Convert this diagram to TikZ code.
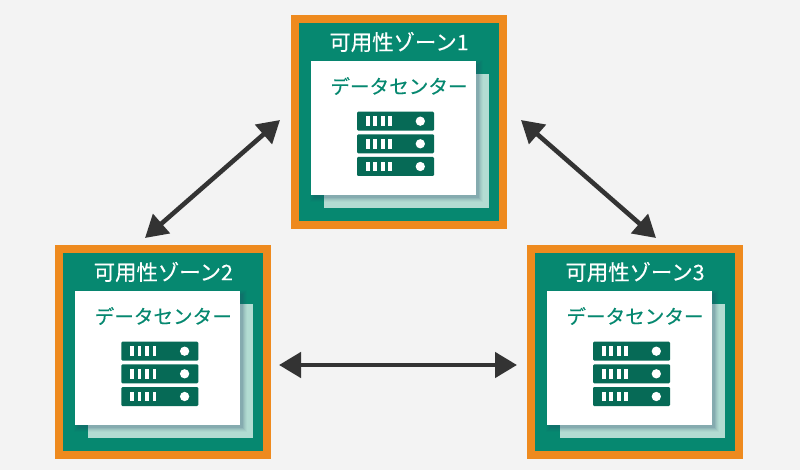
\documentclass[tikz,border=0pt]{standalone}
\usepackage{fontspec}
\setmainfont[FakeBold=0.2]{Noto Sans CJK JP}
\usetikzlibrary{arrows.meta}
\definecolor{bgc}{HTML}{F3F3F3}
\definecolor{orangec}{HTML}{EE8A1E}
\definecolor{greenc}{HTML}{068870}
\definecolor{darkc}{HTML}{066A56}
\definecolor{palec}{HTML}{B2DCD2}
\definecolor{arrowc}{HTML}{333333}
\definecolor{shadowc}{HTML}{2A4A6A}
\tikzset{
  zonebox/.style={draw=orangec,line width=8pt,fill=greenc,minimum width=208pt,minimum height=206pt,inner sep=0pt,outer sep=0pt},
  zonetitle/.style={text=white,font=\fontsize{21.4}{23}\selectfont,inner sep=0pt},
  backcard/.style={fill=palec,minimum width=165pt,minimum height=134pt,inner sep=0pt,outer sep=0pt},
  card/.style={fill=white,minimum width=165pt,minimum height=134pt,inner sep=0pt,outer sep=0pt},
  cardtitle/.style={text=greenc,font=\fontsize{19.6}{22}\selectfont,inner sep=0pt},
  rack/.style={fill=darkc,rounded corners=1.2pt,minimum width=77pt,minimum height=19pt,inner sep=0pt,outer sep=0pt},
  slot/.style={fill=white,minimum width=3.6pt,minimum height=9.5pt,inner sep=0pt},
  lamp/.style={circle,fill=white,minimum size=9.3pt,inner sep=0pt},
  link/.style={draw=arrowc,line width=4.6pt,{Triangle[length=22pt,width=25pt]}-{Triangle[length=22pt,width=25pt]}},
}
\newcommand{\rackunit}[3]{%
  \node[rack] (#1) at (#2,#3) {};
  \foreach \dx in {-27.8,-20.3,-12.8,-5.3}{\node[slot] at (#2+\dx,#3) {};}
  \node[lamp] at (#2+24.8,#3) {};
}
\newcommand{\zonegroup}[4]{%
  \node[zonebox] (#1) at (#2,#3) {};
  \node[zonetitle] (#1t) at (#2,#3-80) {#4};
  \node[backcard] (#1b) at (#2+7.5,#3+19) {};
  \foreach \s/\o in {4/.04,3/.05,2/.07,1/.09,0/.11}{
    \fill[shadowc,opacity=\o] (#2-88+3-\s,#3-61+3-\s) rectangle (#2+77+3+\s,#3+73+3+\s);
  }
  \node[card] (#1c) at (#2-5.5,#3+6) {};
  \node[cardtitle] (#1l) at (#2,#3-36) {データセンター};
  \rackunit{#1r1}{#2-3.5}{#3-0.8}
  \rackunit{#1r2}{#2-3.5}{#3+21.8}
  \rackunit{#1r3}{#2-3.5}{#3+44.5}
}
\begin{document}
\begin{tikzpicture}[x=1pt,y=-1pt]
\useasboundingbox (0,0) rectangle (800,470);
\fill[bgc] (0,0) rectangle (800,470);
\zonegroup{za}{399}{122}{可用性ゾーン1}
\zonegroup{zb}{163.3}{352}{可用性ゾーン2}
\zonegroup{zc}{635}{352}{可用性ゾーン3}
\coordinate (ab1) at (280,120);
\coordinate (ab2) at (145,238);
\coordinate (ac1) at (521,120);
\coordinate (ac2) at (656,238);
\coordinate (bc1) at (279,365);
\coordinate (bc2) at (517,365);
\draw[link] (ab1) -- (ab2);
\draw[link] (ac1) -- (ac2);
\draw[link] (bc1) -- (bc2);
\end{tikzpicture}
\end{document}
